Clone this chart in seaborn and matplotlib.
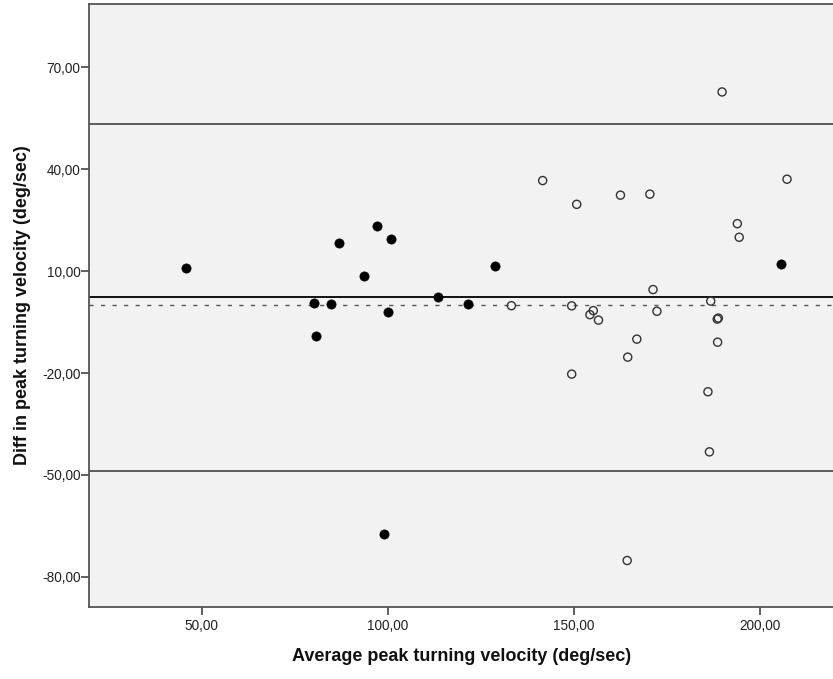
import matplotlib
matplotlib.use("Agg")
import matplotlib.pyplot as plt
import seaborn as sns
import pandas as pd
from matplotlib.ticker import FixedLocator, FuncFormatter

# ---- data ----
filled_avg = [45.7, 80.25, 80.6, 84.7, 87.0, 93.5, 97.1, 98.9, 100.05, 100.9,
              113.6, 121.5, 128.7, 205.6]
filled_diff = [10.9, 0.74, -9.1, 0.44, 18.3, 8.7, 23.4, -67.5, -1.9, 19.4,
               2.5, 0.35, 11.45, 12.2]

open_avg = [133.2, 141.6, 149.4, 149.4, 150.75, 154.3, 155.2, 156.6, 162.5, 164.3,
            164.45, 166.9, 170.4, 171.25, 172.3, 186.0, 186.4, 186.75, 188.5, 188.8,
            188.6, 189.8, 193.9, 194.4, 207.25]
open_diff = [-0.15, 36.7, -0.2, -20.3, 29.7, -2.8, -1.6, -4.4, 32.4, -75.2,
             -15.3, -10.0, 32.7, 4.6, -1.8, -25.5, -43.2, 1.2, -4.1, -3.8,
             -10.9, 62.8, 24.0, 20.0, 37.1]

mean_diff = 2.5
upper_loa = 53.5
lower_loa = -48.7
zero_line = 0.0

y_ticks = [70, 40, 10, -20, -50, -80]
x_ticks = [50, 100, 150, 200]

x_label = "Average peak turning velocity (deg/sec)"
y_label = "Diff in peak turning velocity (deg/sec)"

# ---- plotting ----
sns.set_style("ticks")
plt.rcParams['font.family'] = ['Liberation Sans', 'DejaVu Sans']

fig = plt.figure(figsize=(8.33, 6.79), dpi=100)
ax = fig.add_axes([0.1072, 0.1065, 0.8928, 0.8876])
ax.set_facecolor('#f2f2f2')

df_f = pd.DataFrame({"avg": filled_avg, "diff": filled_diff})
df_o = pd.DataFrame({"avg": open_avg, "diff": open_diff})

ax.axhline(upper_loa, color='#333333', lw=1.1, zorder=1)
ax.axhline(lower_loa, color='#333333', lw=1.1, zorder=1)
ax.axhline(mean_diff, color='black', lw=1.3, zorder=1)
ax.axhline(zero_line, color='#555555', lw=1.0, ls=(0, (3, 5.3)), zorder=1)

sns.scatterplot(data=df_o, x="avg", y="diff", ax=ax, marker='o', s=34,
                facecolor='none', edgecolor='#333333', linewidth=1.0, zorder=3)
sns.scatterplot(data=df_f, x="avg", y="diff", ax=ax, marker='o', s=44,
                color='black', edgecolor='black', linewidth=0.5, zorder=4)

ax.set_xlim(19.8, 219.6)
ax.set_ylim(-88.8, 88.7)

fmt = FuncFormatter(lambda v, p: f"{v:.2f}".replace('.', ','))
ax.xaxis.set_major_locator(FixedLocator(x_ticks))
ax.yaxis.set_major_locator(FixedLocator(y_ticks))
ax.xaxis.set_major_formatter(fmt)
ax.yaxis.set_major_formatter(fmt)

ax.tick_params(axis='both', direction='out', length=5.8, width=1.2,
               color='#444444', labelsize=9.8, labelcolor='#222222')
ax.tick_params(axis='y', pad=0.5)
ax.tick_params(axis='x', pad=3)

for side in ['left', 'bottom', 'top']:
    ax.spines[side].set_color('#555555')
    ax.spines[side].set_linewidth(1.3)
ax.spines['right'].set_visible(False)

ax.set_xlabel(x_label, fontsize=13, fontweight='bold', color='#111111', labelpad=11)
ax.set_ylabel(y_label, fontsize=13, fontweight='bold', color='#111111', labelpad=8)

fig.savefig("out.png", dpi=100)
